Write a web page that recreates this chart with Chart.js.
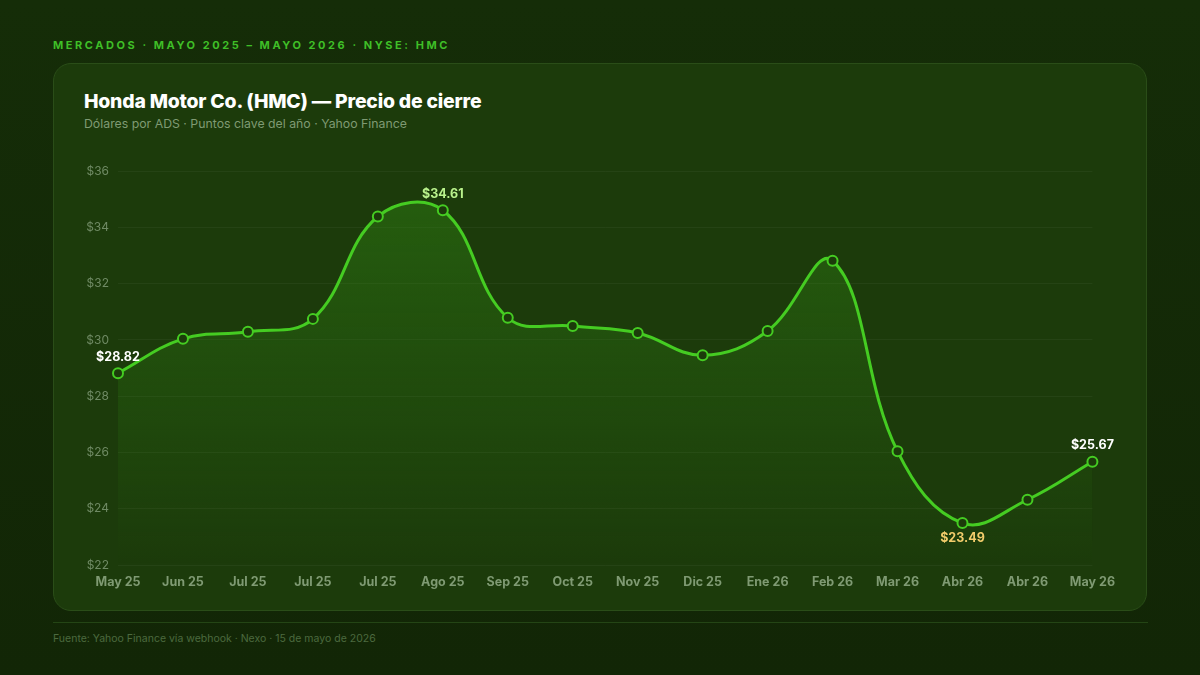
<!DOCTYPE html>
<html lang="es">
<head>
<meta charset="utf-8">
<script src="https://cdn.jsdelivr.net/npm/chart.js@4.4.1/dist/chart.umd.min.js"></script>
<style>
  html, body { margin: 0; padding: 0; }
  body {
    width: 1200px; height: 675px; overflow: hidden; position: relative;
    background: linear-gradient(180deg, #152d08 0%, #122606 100%);
    font-family: Inter, "Noto Sans", sans-serif;
  }
  .kicker {
    position: absolute; left: 53px; top: 38px;
    font-size: 11px; font-weight: 700; letter-spacing: 2.55px;
    color: #3fbf27;
  }
  .card {
    position: absolute; left: 53px; top: 63px; width: 1092px; height: 546px;
    background: #1c3b0b; border: 1px solid #2a4d18; border-radius: 18px;
  }
  .title {
    position: absolute; left: 84px; top: 89px;
    font-size: 19.4px; font-weight: 800; color: #ffffff; letter-spacing: -0.2px;
  }
  .subtitle {
    position: absolute; left: 84px; top: 116px;
    font-size: 12.3px; color: #7f9a73;
  }
  .chart-box { position: absolute; left: 70px; top: 155px; width: 1055px; height: 440px; }
  .rule { position: absolute; left: 53px; top: 622px; width: 1095px; height: 1px; background: #244515; }
  .footer {
    position: absolute; left: 53px; top: 632px;
    font-size: 10.5px; color: #4c6a3f;
  }
</style>
</head>
<body>
<div class="kicker">MERCADOS · MAYO 2025 – MAYO 2026 · NYSE: HMC</div>
<div class="card"></div>
<div class="title">Honda Motor Co. (HMC) — Precio de cierre</div>
<div class="subtitle">Dólares por ADS · Puntos clave del año · Yahoo Finance</div>
<div class="chart-box"><canvas id="chart"></canvas></div>
<div class="rule"></div>
<div class="footer">Fuente: Yahoo Finance vía webhook · Nexo · 15 de mayo de 2026</div>

<script>
// Data
const months = ['May 25', 'Jun 25', 'Jul 25', 'Jul 25', 'Jul 25', 'Ago 25', 'Sep 25', 'Oct 25',
    'Nov 25', 'Dic 25', 'Ene 26', 'Feb 26', 'Mar 26', 'Abr 26', 'Abr 26', 'May 26'];
const closes = [28.82, 30.04, 30.29, 30.75, 34.39, 34.61, 30.79, 30.5,
    30.25, 29.46, 30.32, 32.82, 26.04, 23.49, 24.32, 25.67];
const yTicks = [22, 24, 26, 28, 30, 32, 34, 36];

// Labelled points: index, colour, above/below
const callouts = [
    { i: 0, color: '#ffffff', pos: 'above' },
    { i: 5, color: '#b9f28c', pos: 'above' },
    { i: 13, color: '#f2cc6b', pos: 'below' },
    { i: 15, color: '#ffffff', pos: 'above' },
];

const lineGreen = '#45cc22';

// Draw value labels next to key points
const calloutPlugin = {
    id: 'callouts',
    afterDatasetsDraw(chart) {
        const { ctx } = chart;
        const xs = chart.scales.x;
        const ys = chart.scales.y;
        ctx.save();
        ctx.font = '700 12.5px Inter, sans-serif';
        ctx.textAlign = 'center';
        callouts.forEach((c) => {
            const x = xs.getPixelForValue(c.i);
            const y = ys.getPixelForValue(closes[c.i]);
            ctx.fillStyle = c.color;
            if (c.pos === 'above') {
                ctx.textBaseline = 'bottom';
                ctx.fillText('$' + closes[c.i].toFixed(2), x, y - 10);
            } else {
                ctx.textBaseline = 'top';
                ctx.fillText('$' + closes[c.i].toFixed(2), x, y + 9);
            }
        });
        ctx.restore();
    },
};

const ctx = document.getElementById('chart').getContext('2d');
new Chart(ctx, {
    type: 'line',
    data: {
        labels: months,
        datasets: [{
            data: closes,
            borderColor: lineGreen,
            borderWidth: 3,
            tension: 0.4,
            fill: 'start',
            backgroundColor: (context) => {
                const area = context.chart.chartArea;
                if (!area) return 'rgba(69, 204, 34, 0.15)';
                const g = context.chart.ctx.createLinearGradient(0, area.top, 0, area.bottom);
                g.addColorStop(0, 'rgba(50, 140, 20, 0.45)');
                g.addColorStop(1, 'rgba(50, 140, 20, 0.0)');
                return g;
            },
            pointRadius: 5,
            pointBorderWidth: 2,
            pointBorderColor: lineGreen,
            pointBackgroundColor: '#1c3b0b',
        }],
    },
    options: {
        responsive: true,
        maintainAspectRatio: false,
        animation: false,
        layout: { padding: { top: 6, right: 27, left: 0, bottom: 0 } },
        plugins: {
            legend: { display: false },
            tooltip: { enabled: false },
        },
        scales: {
            x: {
                offset: false,
                grid: { display: false, drawTicks: false },
                border: { display: false },
                ticks: {
                    color: '#7f9a73',
                    font: { family: 'Inter', size: 12.5, weight: '700' },
                    padding: 10,
                    maxRotation: 0,
                    autoSkip: false,
                },
                afterFit(scale) { scale.height = 30; },
            },
            y: {
                min: 22,
                max: 36,
                afterBuildTicks(scale) { scale.ticks = yTicks.map((v) => ({ value: v })); },
                grid: { color: 'rgba(255, 255, 255, 0.045)', drawTicks: false },
                border: { display: false },
                ticks: {
                    color: '#6f8a64',
                    font: { family: 'Inter', size: 12 },
                    padding: 9,
                    callback: (v) => '$' + v,
                },
                afterFit(scale) { scale.width = 48; },
            },
        },
    },
    plugins: [calloutPlugin],
});
</script>
</body>
</html>
